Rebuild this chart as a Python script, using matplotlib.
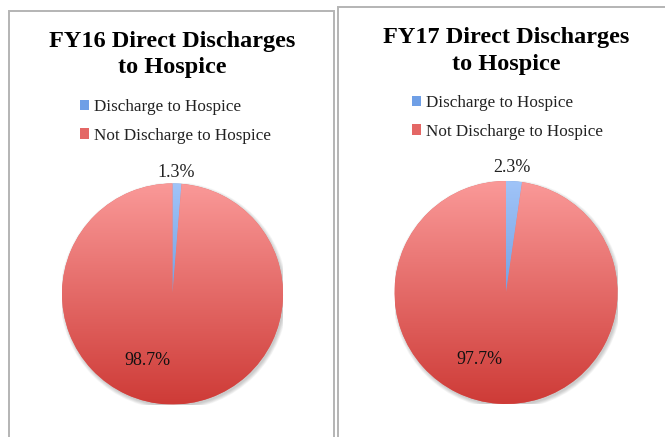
import numpy as np
import matplotlib
matplotlib.use("Agg")
import matplotlib.pyplot as plt
from matplotlib.patches import Rectangle, Circle
from matplotlib.colors import LinearSegmentedColormap

# ---- data ----
titles = [["FY16 Direct Discharges", "to Hospice"], ["FY17 Direct Discharges", "to Hospice"]]
categories = ["Discharge to Hospice", "Not Discharge to Hospice"]
fy16_values = [1.3, 98.7]
fy17_values = [2.3, 97.7]
series = [fy16_values, fy17_values]

# ---- style ----
W, H = 665, 437
fig = plt.figure(figsize=(W / 100, H / 100), dpi=100)
fig.patch.set_facecolor("white")

serif = ["Liberation Serif", "DejaVu Serif"]
blue_cmap = LinearSegmentedColormap.from_list("b", ["#a0c4f8", "#4a7fcf"])
red_cmap = LinearSegmentedColormap.from_list("r", ["#fa9998", "#ce3b37"])
cmaps = [blue_cmap, red_cmap]
mid_colors = ["#6f9fe6", "#e46765"]

# panel borders (pixel coords: x0, y_top, x1)
panels = [(9, 11, 334), (338, 7, 700)]
for x0, yt, x1 in panels:
    r = Rectangle((x0 / W, -0.05), (x1 - x0) / W, (H - yt) / H + 0.05,
                  transform=fig.transFigure, fill=False, edgecolor="#b4b4b4",
                  linewidth=1.4)
    fig.add_artist(r)

# pie centers/radii in pixels
pies = [(172.5, 294, 110.5), (506, 292.5, 111.5)]
title_y = [(47, 73), (43, 70)]
legend_pos = [(80, 99), (412, 95)]
small_lbl = [(0.032, 1.10), (0.054, 1.117)]
big_lbl = [(-0.23, -0.60), (-0.24, -0.605)]

grad = np.linspace(0, 1, 256).reshape(-1, 1)

for i, (cx, cy, r) in enumerate(pies):
    ax = fig.add_axes([(cx - r) / W, (H - cy - r) / H, 2 * r / W, 2 * r / H])
    # soft shadow
    for k in range(6):
        ax.add_patch(Circle((0.012, -0.018), 1.0 + 0.006 * k, facecolor="#000000",
                            alpha=0.035, edgecolor="none", zorder=0))
    wedges, _ = ax.pie(series[i], startangle=90, counterclock=False,
                       colors=mid_colors, radius=1.0,
                       wedgeprops=dict(linewidth=0, zorder=1))
    for w, cm in zip(wedges, cmaps):
        im = ax.imshow(grad, cmap=cm, extent=[-1, 1, -1, 1], aspect="auto",
                       origin="upper", zorder=2, interpolation="bilinear")
        im.set_clip_path(w)
    ax.set_xlim(-1, 1)
    ax.set_ylim(-1, 1)
    ax.set_aspect("auto")
    ax.axis("off")
    ax.text(*small_lbl[i], f"{series[i][0]}%", ha="center", va="center",
            fontsize=13, family=serif, color="#222222", zorder=5, clip_on=False)
    ax.text(*big_lbl[i], f"{series[i][1]}%", ha="center", va="center",
            fontsize=13, family=serif, color="#111111", zorder=5)

    # title (two lines)
    for line, yb in zip(titles[i], title_y[i]):
        fig.text(cx / W, 1 - yb / H, line, ha="center", va="baseline",
                 fontsize=17.5, fontweight="bold", family=serif, color="black")

    # legend
    lx, ly = legend_pos[i]
    handles = [Rectangle((0, 0), 1, 1, facecolor=c, edgecolor="none") for c in mid_colors]
    leg = fig.legend(handles, categories, loc="upper left",
                     bbox_to_anchor=(lx / W, 1 - ly / H), frameon=False,
                     prop=dict(family=serif, size=12.3), handlelength=0.55,
                     handleheight=0.6, handletextpad=0.25, labelspacing=0.75,
                     borderpad=0, borderaxespad=0, labelcolor="#222222")

fig.savefig("out.png", dpi=100, facecolor="white")
